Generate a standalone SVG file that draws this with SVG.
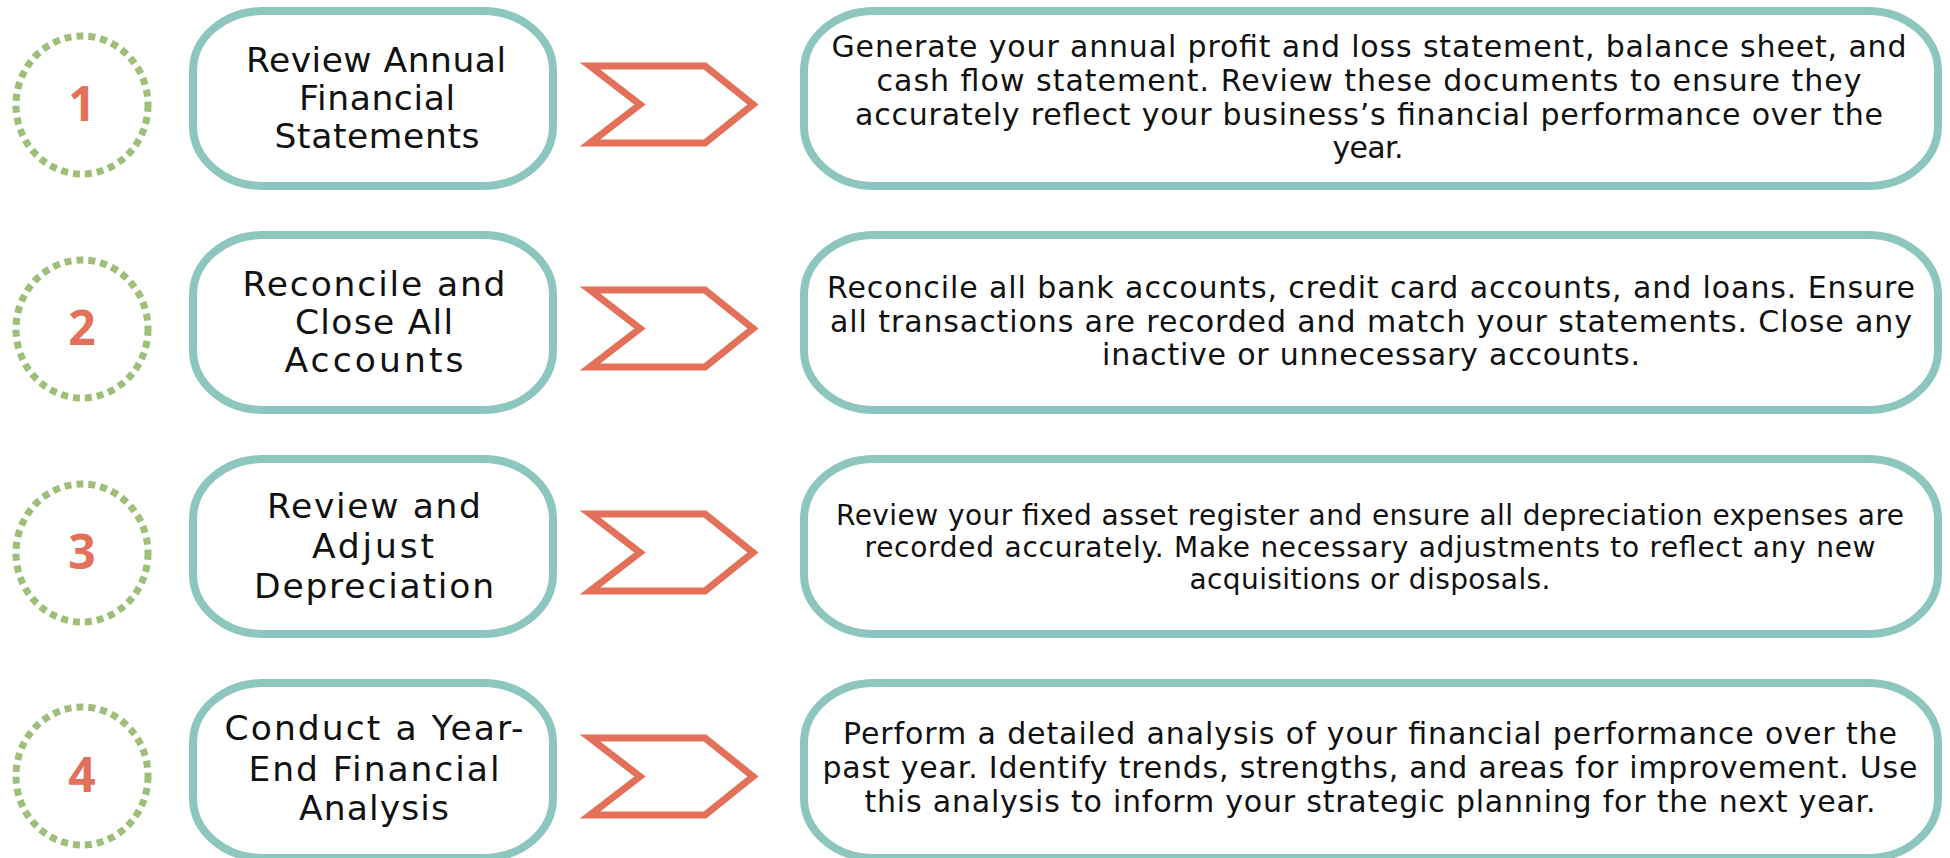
<svg xmlns="http://www.w3.org/2000/svg" width="1950" height="858" viewBox="0 0 1950 858">
  <style>
    .ring { fill: none; stroke: #9DBF7A; stroke-width: 7; stroke-dasharray: 7 5; }
    .num { font-family: "Open Sans", "DejaVu Sans", sans-serif; font-weight: 700; font-size: 48px; fill: #E3715A; text-anchor: middle; }
    .box { fill: #FFFFFF; stroke: #8DC6BF; stroke-width: 8; }
    .chev { fill: none; stroke: #E3715A; stroke-width: 7; stroke-linejoin: miter; stroke-miterlimit: 10; }
    .title { font-family: "DejaVu Sans", "Liberation Sans", sans-serif; font-weight: 400; font-size: 34.5px; fill: #111111; text-anchor: middle; }
    .desc { font-family: "DejaVu Sans", "Liberation Sans", sans-serif; font-weight: 400; font-size: 30px; fill: #111111; text-anchor: middle; }
    .desc-sm { font-size: 28px; }
  </style>
  <defs>
    <polygon id="chevron" points="590,66 705,66 753,104.5 705,143 590,143 640,104.5"/>
  </defs>

  <rect width="1950" height="858" fill="#FFFFFF"/>

  <!-- step 1 -->
  <g id="step1">
    <g id="step1-badge">
      <ellipse class="ring" cx="82" cy="105" rx="66" ry="69"/>
      <text class="num" x="82" y="121">1</text>
    </g>
    <g id="step1-title">
      <rect class="box" x="193" y="11" width="360" height="175" rx="70" ry="60"/>
      <text class="title" x="376" y="72" textLength="260" lengthAdjust="spacing">Review Annual</text>
      <text class="title" x="377" y="110" textLength="156" lengthAdjust="spacing">Financial</text>
      <text class="title" x="377" y="148" textLength="205" lengthAdjust="spacing">Statements</text>
    </g>
    <g id="step1-detail">
      <rect class="box" x="804" y="11" width="1134" height="175" rx="70" ry="60"/>
      <text class="desc" x="1369" y="57" textLength="1075" lengthAdjust="spacing">Generate your annual profit and loss statement, balance sheet, and</text>
      <text class="desc" x="1369" y="91" textLength="985" lengthAdjust="spacing">cash flow statement. Review these documents to ensure they</text>
      <text class="desc" x="1369" y="125" textLength="1028" lengthAdjust="spacing">accurately reflect your business’s financial performance over the</text>
      <text class="desc" x="1368" y="158" textLength="71" lengthAdjust="spacing">year.</text>
    </g>
  </g>

  <!-- step 2 -->
  <g id="step2">
    <g id="step2-badge">
      <ellipse class="ring" cx="82" cy="329" rx="66" ry="69"/>
      <text class="num" x="82" y="345">2</text>
    </g>
    <g id="step2-title">
      <rect class="box" x="193" y="235" width="360" height="175" rx="70" ry="60"/>
      <text class="title" x="374" y="296" textLength="263" lengthAdjust="spacing">Reconcile and</text>
      <text class="title" x="374" y="334" textLength="158" lengthAdjust="spacing">Close All</text>
      <text class="title" x="374" y="372" textLength="179" lengthAdjust="spacing">Accounts</text>
    </g>
    <g id="step2-detail">
      <rect class="box" x="804" y="235" width="1134" height="175" rx="70" ry="60"/>
      <text class="desc" x="1371" y="298" textLength="1088" lengthAdjust="spacing">Reconcile all bank accounts, credit card accounts, and loans. Ensure</text>
      <text class="desc" x="1371" y="332" textLength="1082" lengthAdjust="spacing">all transactions are recorded and match your statements. Close any</text>
      <text class="desc" x="1371" y="365" textLength="538" lengthAdjust="spacing">inactive or unnecessary accounts.</text>
    </g>
  </g>

  <!-- step 3 -->
  <g id="step3">
    <g id="step3-badge">
      <ellipse class="ring" cx="82" cy="553" rx="66" ry="69"/>
      <text class="num" x="82" y="569">3</text>
    </g>
    <g id="step3-title">
      <rect class="box" x="193" y="459" width="360" height="175" rx="70" ry="60"/>
      <text class="title" x="374" y="518" textLength="214" lengthAdjust="spacing">Review and</text>
      <text class="title" x="373" y="558" textLength="122" lengthAdjust="spacing">Adjust</text>
      <text class="title" x="374" y="598" textLength="240" lengthAdjust="spacing">Depreciation</text>
    </g>
    <g id="step3-detail">
      <rect class="box" x="804" y="459" width="1134" height="175" rx="70" ry="60"/>
      <text class="desc desc-sm" x="1370" y="525" textLength="1068" lengthAdjust="spacing">Review your fixed asset register and ensure all depreciation expenses are</text>
      <text class="desc desc-sm" x="1370" y="557" textLength="1011" lengthAdjust="spacing">recorded accurately. Make necessary adjustments to reflect any new</text>
      <text class="desc desc-sm" x="1370" y="589" textLength="361" lengthAdjust="spacing">acquisitions or disposals.</text>
    </g>
  </g>

  <!-- step 4 -->
  <g id="step4">
    <g id="step4-badge">
      <ellipse class="ring" cx="82" cy="776" rx="66" ry="69"/>
      <text class="num" x="82" y="792">4</text>
    </g>
    <g id="step4-title">
      <rect class="box" x="193" y="683" width="360" height="175" rx="70" ry="60"/>
      <text class="title" x="374" y="740" textLength="299" lengthAdjust="spacing">Conduct a Year-</text>
      <text class="title" x="374" y="781" textLength="251" lengthAdjust="spacing">End Financial</text>
      <text class="title" x="374" y="820" textLength="150" lengthAdjust="spacing">Analysis</text>
    </g>
    <g id="step4-detail">
      <rect class="box" x="804" y="683" width="1134" height="175" rx="70" ry="60"/>
      <text class="desc" x="1370" y="744" textLength="1054" lengthAdjust="spacing">Perform a detailed analysis of your financial performance over the</text>
      <text class="desc" x="1370" y="778" textLength="1095" lengthAdjust="spacing">past year. Identify trends, strengths, and areas for improvement. Use</text>
      <text class="desc" x="1370" y="812" textLength="1011" lengthAdjust="spacing">this analysis to inform your strategic planning for the next year.</text>
    </g>
  </g>

  <!-- connectors: chevrons between title and detail -->
  <g id="connectors">
    <use href="#chevron" class="chev"/>
    <use href="#chevron" class="chev" y="224"/>
    <use href="#chevron" class="chev" y="448"/>
    <use href="#chevron" class="chev" y="672"/>
  </g>
</svg>
